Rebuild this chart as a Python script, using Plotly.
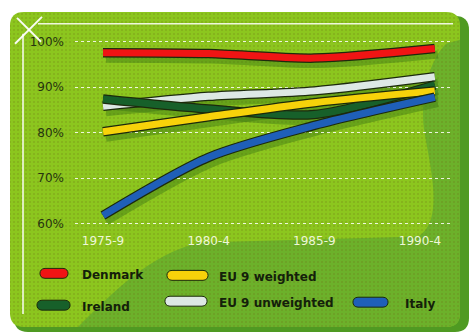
import math
import plotly.graph_objects as go

# Share of population (%) by period
years = [1975.0, 1980.0, 1985.0, 1990.7]
tick_years = [1975, 1980, 1985, 1990]
tick_labels = ["1975-9", "1980-4", "1985-9", "1990-4"]
y_ticks = [60, 70, 80, 90, 100]
y_tick_labels = ["60%", "70%", "80%", "90%", "100%"]

denmark = [97.6, 97.4, 96.4, 98.5]
ireland = [87.4, 85.2, 84.0, 90.5]
eu9_weighted = [80.2, 83.5, 86.6, 89.2]
eu9_unweighted = [85.8, 88.0, 89.2, 92.3]
italy = [61.8, 74.6, 81.6, 87.8]

W, H = 469, 335


def px(x, y):
    """Pixel position -> paper coordinates."""
    return x / W, 1 - y / H


def path(points_cmds):
    out = []
    for cmd, *pts in points_cmds:
        coords = []
        for i in range(0, len(pts), 2):
            xp, yp = px(pts[i], pts[i + 1])
            coords.append(f"{xp:.5f},{yp:.5f}")
        out.append(cmd + " " + " ".join(coords))
    return " ".join(out) + " Z"


def rounded_rect(x0, y0, x1, y1, r):
    return path([
        ("M", x0 + r, y0), ("L", x1 - r, y0), ("Q", x1, y0, x1, y0 + r),
        ("L", x1, y1 - r), ("Q", x1, y1, x1 - r, y1), ("L", x0 + r, y1),
        ("Q", x0, y1, x0, y1 - r), ("L", x0, y0 + r), ("Q", x0, y0, x0 + r, y0),
    ])


def rounded_outline(x0, y0, x1, y1, r, n=8):
    """Polygon points of a rounded rectangle (pixel space)."""
    xs, ys = [], []
    corners = [(x1 - r, y0 + r, -90), (x1 - r, y1 - r, 0),
               (x0 + r, y1 - r, 90), (x0 + r, y0 + r, 180)]
    for cx, cy, start in corners:
        for k in range(n + 1):
            a = math.radians(start + 90 * k / n)
            xs.append(cx + r * math.cos(a))
            ys.append(cy + r * math.sin(a))
    xs.append(xs[0])
    ys.append(ys[0])
    return xs, ys


LIME = "#8cc61e"
DEEP = "#6cb12a"
EDGE = "#4f9a22"
OUTLINE = "#1c2a0c"

PAPER = dict(xref="paper", yref="paper")
CARD = (10, 12, 460, 329, 14)

shapes = [
    # card shadow edge and card face
    dict(type="path", path=rounded_rect(14, 16, 469, 334, 14), fillcolor=EDGE,
         line=dict(width=0), layer="below", **PAPER),
    dict(type="path", path=rounded_rect(*CARD), fillcolor=LIME,
         line=dict(width=0), layer="below", **PAPER),
    # darker swoosh across the lower right
    dict(type="path", layer="below", fillcolor=DEEP, line=dict(width=0), **PAPER,
         path=path([("M", 78, 329), ("C", 115, 292, 150, 256, 200, 244),
                    ("L", 418, 238), ("C", 445, 222, 430, 168, 424, 130),
                    ("C", 420, 95, 430, 60, 446, 44), ("L", 460, 40),
                    ("L", 460, 316), ("Q", 460, 329, 447, 329)])),
]


def seg(x0, y0, x1, y1, width=1.5, color="rgba(255,255,255,0.95)"):
    a, b = px(x0, y0)
    c, d = px(x1, y1)
    return dict(type="line", x0=a, y0=b, x1=c, y1=d,
                line=dict(color=color, width=width), layer="above", **PAPER)


# white frame lines and corner cross
shapes += [
    seg(23, 34, 23, 316, 1.5),
    seg(38, 24, 453, 24, 1.5, "rgba(255,255,255,0.85)"),
    seg(17, 18, 41, 42, 2),
    seg(42, 17, 15, 44, 2),
]


def capsule(x0, y0, x1, y1, color):
    r = (y1 - y0) / 2
    p = path([("M", x0 + r, y0), ("L", x1 - r, y0),
              ("C", x1 + r * 0.35, y0, x1 + r * 0.35, y1, x1 - r, y1),
              ("L", x0 + r, y1),
              ("C", x0 - r * 0.35, y1, x0 - r * 0.35, y0, x0 + r, y0)])
    return dict(type="path", path=p, fillcolor=color,
                line=dict(color=OUTLINE, width=1), layer="above", **PAPER)


series = [
    ("EU 9 unweighted", eu9_unweighted, "#dde8e4"),
    ("Ireland", ireland, "#17602a"),
    ("EU 9 weighted", eu9_weighted, "#f7d20a"),
    ("Italy", italy, "#1f5fb8"),
    ("Denmark", denmark, "#f01414"),
]

fig = go.Figure()

# dotted texture over the card (full-canvas pixel axes)
tx_, ty_ = rounded_outline(*CARD)
fig.add_trace(go.Scatter(x=tx_, y=ty_, mode="lines", fill="toself", xaxis="x",
                         yaxis="y", line=dict(width=0, color="rgba(0,0,0,0)"),
                         fillcolor="rgba(0,0,0,0)",
                         fillpattern=dict(shape=".", size=4, solidity=0.22,
                                          fgcolor="rgba(110,110,20,0.55)",
                                          bgcolor="rgba(0,0,0,0)"),
                         hoverinfo="skip", showlegend=False))

# soft drop shadows on the offset subplot
for name, vals, color in series:
    fig.add_trace(go.Scatter(x=years, y=vals, mode="lines", xaxis="x2", yaxis="y2",
                             line=dict(color="rgba(60,120,20,0.45)", width=8,
                                       shape="spline", smoothing=0.8),
                             hoverinfo="skip", showlegend=False))

# outlined coloured lines
for name, vals, color in series:
    fig.add_trace(go.Scatter(x=years, y=vals, mode="lines", xaxis="x3", yaxis="y3",
                             line=dict(color=OUTLINE, width=9.5, shape="spline",
                                       smoothing=0.8),
                             hoverinfo="skip", showlegend=False))
    fig.add_trace(go.Scatter(x=years, y=vals, mode="lines", xaxis="x3", yaxis="y3",
                             name=name,
                             line=dict(color=color, width=7, shape="spline",
                                       smoothing=0.8),
                             showlegend=False))

# legend: capsules and labels
legend_items = [
    ("Denmark", "#f01414", 40, 68, 275, 80),
    ("Ireland", "#17602a", 37, 70, 307, 80),
    ("EU 9 weighted", "#f7d20a", 167, 208, 277, 217),
    ("EU 9 unweighted", "#dde8e4", 165, 207, 303, 217),
    ("Italy", "#1f5fb8", 353, 388, 304, 403),
]
annotations = []
for label, color, cx0, cx1, cy, tx in legend_items:
    shapes.append(capsule(cx0, cy - 5, cx1, cy + 5, color))
    ax, ay = px(tx, cy + 1.5)
    annotations.append(dict(text=label, x=ax, y=ay, xref="paper", yref="paper",
                            xanchor="left", yanchor="middle", showarrow=False,
                            font=dict(family="DejaVu Sans", size=12, color="#14200a",
                                      weight="bold")))

x_range = [1973.675, 1991.514]
y_range = [58.907, 103.934]

fig.update_layout(
    width=W, height=H,
    margin=dict(l=0, r=0, t=0, b=0),
    paper_bgcolor="white",
    plot_bgcolor="rgba(0,0,0,0)",
    shapes=shapes,
    annotations=annotations,
    xaxis=dict(domain=[0, 1], range=[0, W], visible=False, anchor="y"),
    yaxis=dict(domain=[0, 1], range=[H, 0], visible=False, anchor="x"),
    xaxis2=dict(domain=[78 / W, 455 / W], range=x_range, visible=False, anchor="y2"),
    yaxis2=dict(domain=[1 - 236 / H, 1 - 30 / H], range=y_range, visible=False,
                anchor="x2"),
    xaxis3=dict(domain=[75 / W, 452 / W], range=x_range, anchor="y3",
                tickvals=tick_years, ticktext=tick_labels, showgrid=False,
                zeroline=False, showline=False, ticks="", ticklabelstandoff=3,
                tickfont=dict(family="DejaVu Sans", size=12, color="#eef7d8")),
    yaxis3=dict(domain=[1 - 230 / H, 1 - 24 / H], range=y_range, anchor="x3",
                tickvals=y_ticks, ticktext=y_tick_labels, showgrid=True,
                gridcolor="rgba(255,255,255,0.85)", griddash="dot", gridwidth=1,
                zeroline=False, showline=False, ticks="", ticklabelstandoff=10,
                tickfont=dict(family="DejaVu Sans", size=12, color="#26340f")),
)

fig.write_html("out.html")
